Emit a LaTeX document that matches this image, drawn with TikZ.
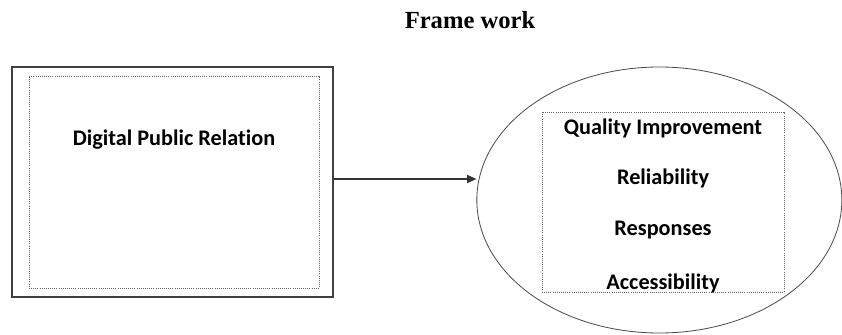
\documentclass[tikz,border=0pt]{standalone}
\usepackage{fontspec}
\setmainfont{Carlito}[Ligatures=NoCommon]
\newfontfamily\titlefont{Liberation Serif}
\usetikzlibrary{arrows.meta, shapes.geometric}

\tikzset{
  boxlabel/.style={font=\fontsize{19}{22}\selectfont\bfseries, text=black},
  dotbox/.style={draw=black!60, densely dotted, line width=0.8pt}
}

\begin{document}
\begin{tikzpicture}
    \useasboundingbox (0, 0) rectangle (25.26, -10.05);

    % タイトル
    \node[font=\titlefont\fontsize{21}{24}\selectfont\bfseries] (title) at (14.1, -0.6) {Frame work};

    \node[rectangle, draw=black!75, line width=1.1pt, minimum width=9.63cm, minimum height=6.9cm] (DPR) at (5.175, -5.46) {};
    \node[rectangle, dotbox, minimum width=8.7cm, minimum height=6.36cm] (DPR_in) at (5.22, -5.46) {};
    \node[boxlabel] (DPR_label) at (5.22, -4.2) {Digital Public Relation};

    \node[ellipse, draw=black!70, line width=0.7pt, minimum width=10.95cm, minimum height=7.98cm] (E) at (19.78, -6.0) {};
    \node[rectangle, dotbox, minimum width=7.26cm, minimum height=5.4cm] (E_in) at (19.89, -6.06) {};

    \node[boxlabel] (QI) at (19.89, -3.84) {Quality Improvement};
    \node[boxlabel] (REL) at (19.89, -5.34) {Reliability};
    \node[boxlabel] (RESP) at (19.89, -6.9) {Responses};
    \node[boxlabel] (ACC) at (19.89, -8.49) {Accessibility};

    \coordinate (arrow_y) at (0, -5.37);
    \draw[line width=0.9pt, black!80, -{Triangle[length=8pt, width=7pt]}] (DPR.east |- arrow_y) -- (E.west |- arrow_y);

  \end{tikzpicture}
\end{document}
